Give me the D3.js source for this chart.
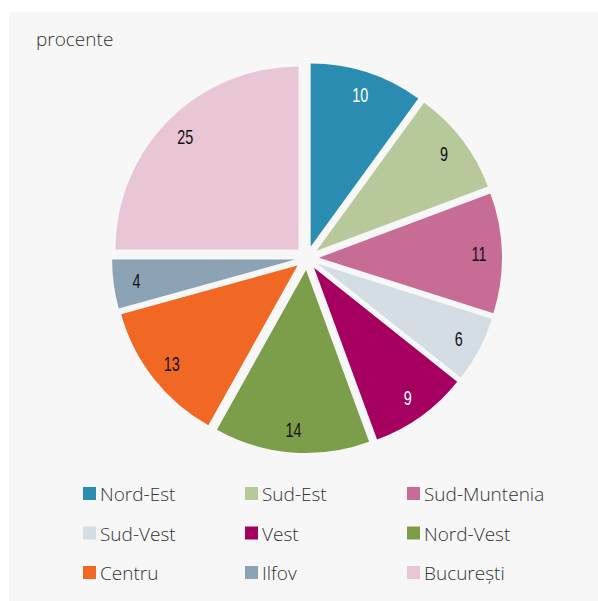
<!DOCTYPE html>
<html>
<head>
  <meta charset="utf-8">
  <title>Pie Chart</title>
  <style>
    body { margin: 0; background: #ffffff; }
    .legend text, .unit { font-family: "Open Sans", "Noto Sans", sans-serif; font-size: 19px; font-weight: 300; fill: #333333; }
    .value { font-family: "Liberation Sans", "DejaVu Sans", sans-serif; font-size: 20px; }
  </style>
</head>
<body>
  <script src="https://d3js.org/d3.v7.min.js"></script>
  <script>
    // Regions, shares (procente) and colours
    var regions = ["Nord-Est", "Sud-Est", "Sud-Muntenia", "Sud-Vest", "Vest", "Nord-Vest", "Centru", "Ilfov", "București"];
    var shares = [10.0, 9.3, 10.6, 5.8, 8.7, 13.7, 12.6, 4.3, 25.0];
    var labels = ["10", "9", "11", "6", "9", "14", "13", "4", "25"];
    var colors = ["#2b8cb1", "#b7c99a", "#c66c95", "#d4dce4", "#a50060", "#7c9e4a", "#f06824", "#8ba3b5", "#e8c6d6"];
    var labelColors = ["#ffffff", "#111111", "#111111", "#111111", "#ffffff", "#111111", "#111111", "#111111", "#111111"];

    var width = 598, height = 601;
    var radius = 183, explode = 12;

    var svg = d3.select("body")
      .append("svg")
      .attr("width", width)
      .attr("height", height);

    // Grey panel
    svg.append("rect")
      .attr("x", 9).attr("y", 12)
      .attr("width", width - 9).attr("height", height - 12)
      .attr("fill", "#f7f7f7");

    svg.append("text")
      .attr("class", "unit")
      .attr("x", 36).attr("y", 46)
      .text("procente");

    var pie = d3.pie().sort(null).value(function (d) { return d; });
    var arcs = pie(shares);

    var arc = d3.arc().innerRadius(0).outerRadius(radius);
    var labelArc = d3.arc().innerRadius(160).outerRadius(160);

    var g = svg.append("g")
      .attr("transform", "translate(307,258)");

    var slices = g.selectAll(".slice")
      .data(arcs)
      .enter().append("g")
      .attr("class", "slice")
      .attr("transform", function (d) {
        var a = (d.startAngle + d.endAngle) / 2;
        return "translate(" + (explode * Math.sin(a)) + "," + (-explode * Math.cos(a)) + ")";
      });

    slices.append("path")
      .attr("d", arc)
      .attr("fill", function (d, i) { return colors[i]; });

    // condensed look for the value labels
    slices.append("text")
      .attr("class", "value")
      .attr("transform", function (d) { return "translate(" + labelArc.centroid(d) + ") scale(0.72,1)"; })
      .attr("text-anchor", "middle")
      .attr("dy", "0.36em")
      .attr("fill", function (d, i) { return labelColors[i]; })
      .text(function (d, i) { return labels[i]; });

    // Legend, 3 columns
    var legend = svg.append("g").attr("class", "legend");
    var colX = [83, 245, 407], rowY = [487, 526.5, 566];

    var items = legend.selectAll("g")
      .data(regions)
      .enter().append("g")
      .attr("transform", function (d, i) {
        return "translate(" + colX[i % 3] + "," + rowY[Math.floor(i / 3)] + ")";
      });

    items.append("rect")
      .attr("width", 13).attr("height", 13)
      .attr("fill", function (d, i) { return colors[i]; });

    items.append("text")
      .attr("x", 17).attr("y", 14)
      .text(function (d) { return d; });
  </script>
</body>
</html>
